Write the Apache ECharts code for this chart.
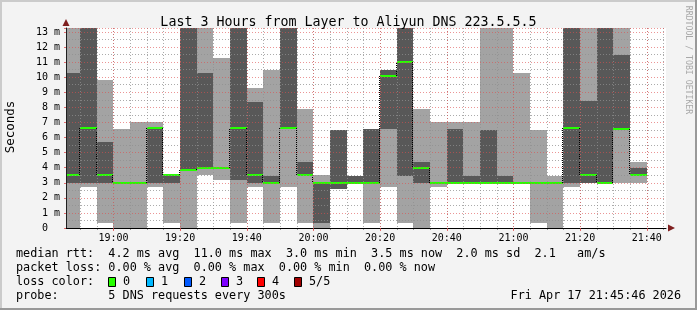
<!DOCTYPE html>
<html><head><meta charset="utf-8">
<script src="https://cdn.jsdelivr.net/npm/echarts@6/dist/echarts.min.js"></script>
<style>html,body{margin:0;padding:0;background:#f3f3f3}#c{width:697px;height:310px}</style>
</head><body><div id="c"></div>
<script>
// ---- data (5-minute buckets, values in milliseconds) ----
const bucketStart = ['18:45','18:50','18:55','19:00','19:05','19:10','19:15','19:20','19:25','19:30',
  '19:35','19:40','19:45','19:50','19:55','20:00','20:05','20:10','20:15','20:20',
  '20:25','20:30','20:35','20:40','20:45','20:50','20:55','21:00','21:05','21:10',
  '21:15','21:20','21:25','21:30','21:35'];
// outer smoke (light grey)
const lightLo = [0, 2.7, 0.35, 0, 0, 2.7, 0.35, 0, 3.5, 3.15,
  0.35, 2.7, 0.35, 2.7, 0.35, 0, null, null, 0.35, 2.7,
  0.35, 0, 2.7, 3.0, 3.0, 3.0, 3.0, 3.0, 0.35, 0,
  2.7, 3.0, null, 3.0, 3.0];
const lightHi = [14, 14, 9.8, 6.55, 7.0, 7.0, 3.5, 14, 14, 11.25,
  14, 9.25, 10.5, 14, 7.9, 3.5, null, null, 6.55, 10.5,
  14, 7.9, 7.0, 7.0, 7.0, 14, 14, 10.25, 6.5, 3.45,
  14, 14, null, 14, 4.4];
// inner smoke (dark grey)
const darkLo = [3.0, 3.0, 3.0, null, null, 3.0, 3.0, 3.9, 4.05, null,
  3.15, 3.0, 3.0, 6.6, 3.5, 0.35, 2.6, 3.0, 3.0, 6.55,
  3.45, 3.0, null, 3.0, 3.0, 3.0, 3.0, null, null, null,
  3.0, 3.0, 3.0, 6.55, 3.5];
const darkHi = [10.25, 14, 5.7, null, null, 6.6, 3.5, 14, 10.3, null,
  14, 8.35, 3.45, 14, 4.4, 3.0, 6.5, 3.45, 6.55, 10.5,
  14, 4.4, null, 6.55, 3.45, 6.5, 3.45, null, null, null,
  14, 8.4, 14, 11.5, 3.95];
// median rtt
const median = [3.5, 6.6, 3.5, 3.0, 3.0, 6.6, 3.5, 3.85, 4.0, 4.0,
  6.65, 3.5, 3.0, 6.6, 3.5, 3.0, 3.0, 3.0, 3.0, 10.05,
  11.0, 3.95, 3.0, 3.0, 3.0, 3.0, 3.0, 3.0, 3.0, 3.0,
  6.6, 3.5, 3.0, 6.55, 3.5];
const xTickLabels = ['19:00','19:20','19:40','20:00','20:20','20:40','21:00','21:20','21:40'];
const xMinorTicks = ['18:50','18:55','19:00','19:05','19:10','19:15','19:20','19:25','19:30','19:35',
  '19:40','19:45','19:50','19:55','20:00','20:05','20:10','20:15','20:20','20:25','20:30','20:35',
  '20:40','20:45','20:50','20:55','21:00','21:05','21:10','21:15','21:20','21:25','21:30','21:35',
  '21:40','21:45'];
const yTicks = [0,1,2,3,4,5,6,7,8,9,10,11,12,13];
const titleText = 'Last 3 Hours from Layer to Aliyun DNS 223.5.5.5';
const legendLines = [
  'median rtt:  4.2 ms avg  11.0 ms max  3.0 ms min  3.5 ms now  2.0 ms sd  2.1   am/s',
  'packet loss: 0.00 % avg  0.00 % max  0.00 % min  0.00 % now',
  'loss color:',
  'probe:       5 DNS requests every 300s'
];
const lossLabels = ['0','1','2','3','4','5/5'];
const lossColors = ['#26ff00','#00b8ff','#0059ff','#7e00ff','#ff0000','#a10000'];
const dateText = 'Fri Apr 17 21:45:46 2026';

// ---- build ----
const MONO = '"DejaVu Sans Mono", monospace';
const LIGHT = '#a3a3a3', DARK = '#585858', GREEN = '#26ff00';
function t(hm, s) { const [h, m] = hm.split(':').map(Number); return new Date(2026, 3, 17, h, m, s || 0).getTime(); }
function hhmm(v) { const d = new Date(v); return String(d.getHours()).padStart(2, '0') + ':' + String(d.getMinutes()).padStart(2, '0'); }
const xMin = t('18:45', 46), xMax = t('21:45', 46);
const items = bucketStart.map((s, i) => [t(s), t(s) + 300000, i, median[i]]);

function renderItem(params, api) {
  const i = api.value(2);
  const cs = params.coordSys;
  const box = {x: cs.x, y: cs.y, width: cs.width, height: cs.height};
  const t0 = api.value(0), t1 = api.value(1);
  const ch = [];
  const band = (lo, hi, color) => {
    if (lo == null || hi == null) return;
    const a = api.coord([t0, hi]), b = api.coord([t1, lo]);
    const x0 = Math.round(a[0]), x1 = Math.round(b[0]);
    const y0 = Math.round(a[1]), y1 = Math.round(b[1]);
    const r = echarts.graphic.clipRectByRect({x: x0, y: y0, width: x1 - x0, height: Math.max(y1 - y0, 0)}, box);
    if (r) ch.push({type: 'rect', shape: r, style: {fill: color}});
  };
  band(lightLo[i], lightHi[i], LIGHT);
  band(darkLo[i], darkHi[i], DARK);
  const m0 = api.coord([t0, median[i]]), m1 = api.coord([t1, median[i]]);
  if (i > 0 && median[i - 1] !== median[i]) {
    const p = api.coord([t0, median[i - 1]]);
    const x = Math.round(p[0]) - 0.5;
    ch.push({type: 'line', shape: {x1: x, y1: Math.round(p[1]), x2: x, y2: Math.round(m0[1])},
      style: {stroke: '#000', lineWidth: 1, lineDash: [1, 1]}});
  }
  const xa = Math.max(Math.round(m0[0]), cs.x), xb = Math.min(Math.round(m1[0]), cs.x + cs.width);
  const ym = Math.round(m0[1]);
  ch.push({type: 'line', shape: {x1: xa, y1: ym, x2: xb, y2: ym}, style: {stroke: GREEN, lineWidth: 2}});
  return {type: 'group', children: ch};
}

const chart = echarts.init(document.getElementById('c'), null, {renderer: 'canvas'});
const gridStyleMinor = {color: 'rgba(143,143,143,0.75)', width: 1, type: [1, 2]};
const gridStyleMajor = {color: 'rgba(222,79,79,0.6)', width: 1, type: [1, 2]};

const graphics = [
  {type: 'rect', shape: {x: 0, y: 0, width: 697, height: 2}, style: {fill: '#cbcbcb'}, silent: true},
  {type: 'rect', shape: {x: 0, y: 0, width: 2, height: 310}, style: {fill: '#cbcbcb'}, silent: true},
  {type: 'rect', shape: {x: 695, y: 0, width: 2, height: 310}, style: {fill: '#999999'}, silent: true},
  {type: 'rect', shape: {x: 0, y: 308, width: 697, height: 2}, style: {fill: '#999999'}, silent: true},
  {type: 'text', x: 11, y: 127, rotation: Math.PI / 2,
    style: {text: 'Seconds', font: '12.5px ' + MONO, fill: '#000', align: 'center', verticalAlign: 'middle'}},
  {type: 'text', x: 688, y: 60, rotation: -Math.PI / 2,
    style: {text: 'RRDTOOL / TOBI OETIKER', font: '8.2px ' + MONO, fill: '#a8a8a8', align: 'center', verticalAlign: 'middle'}}
];
const lineY = [254, 268, 282, 296];
legendLines.forEach((s, k) => graphics.push({type: 'text', x: 16, y: lineY[k],
  style: {text: s, font: '11.8px ' + MONO, fill: '#000', align: 'left', verticalAlign: 'middle'}}));
const boxX = [108, 146, 184, 221, 257, 294];
lossLabels.forEach((s, k) => {
  graphics.push({type: 'rect', shape: {x: boxX[k] + 0.5, y: 277.5, width: 7, height: 9},
    style: {fill: lossColors[k], stroke: '#000', lineWidth: 1}});
  graphics.push({type: 'text', x: boxX[k] + 15, y: 282,
    style: {text: s, font: '11.8px ' + MONO, fill: '#000', align: 'left', verticalAlign: 'middle'}});
});
graphics.push({type: 'text', x: 681, y: 296,
  style: {text: dateText, font: '11.8px ' + MONO, fill: '#000', align: 'right', verticalAlign: 'middle'}});

chart.setOption({
  animation: false,
  backgroundColor: '#f3f3f3',
  title: {text: titleText, left: 'center', top: 11,
    textStyle: {fontFamily: MONO, fontSize: 13.3, fontWeight: 'normal', color: '#000'}},
  grid: {left: 66, right: 31, top: 28, bottom: 82, show: true, backgroundColor: '#fff', borderWidth: 0},
  xAxis: [
    {type: 'value', min: xMin, max: xMax, z: 5,
      axisLine: {show: true, lineStyle: {color: '#000', width: 1}},
      axisTick: {show: true, length: 3, lineStyle: {color: 'rgba(222,79,79,0.8)'},
        customValues: xTickLabels.map(s => t(s))},
      axisLabel: {formatter: hhmm, fontFamily: MONO, fontSize: 10, color: '#000', margin: 5,
        customValues: xTickLabels.map(s => t(s))},
      splitLine: {show: true, lineStyle: gridStyleMajor}},
    {type: 'value', min: xMin, max: xMax, z: 4, position: 'bottom',
      axisLine: {show: false},
      axisTick: {show: true, length: 2, lineStyle: {color: '#999'}, customValues: xMinorTicks.map(s => t(s))},
      axisLabel: {show: false, customValues: xMinorTicks.map(s => t(s))},
      splitLine: {show: true, lineStyle: gridStyleMinor}}
  ],
  yAxis: {type: 'value', min: 0, max: 13.26, interval: 1, z: 5,
    axisLine: {show: true, lineStyle: {color: '#1f1f1f'}},
    axisTick: {show: true, length: 2, lineStyle: {color: 'rgba(222,79,79,0.8)'}},
    minorTick: {show: false, splitNumber: 2},
    axisLabel: {fontFamily: MONO, fontSize: 10, color: '#000', margin: 6,
      formatter: v => yTicks.indexOf(v) < 0 ? '' : (v === 0 ? '0  ' : v + ' m')},
    splitLine: {show: true, lineStyle: gridStyleMajor},
    minorSplitLine: {show: true, lineStyle: gridStyleMinor}},
  series: [{type: 'custom', renderItem: renderItem, data: items, xAxisIndex: 0, yAxisIndex: 0,
    encode: {x: [0, 1], y: 3}, z: 2, clip: true}],
  graphic: graphics
});
// axis arrows (decoration) placed from the grid rectangle
const gr = chart.getModel().getComponent('grid').coordinateSystem.getRect();
chart.setOption({graphic: graphics.concat([
  {type: 'polygon', shape: {points: [[gr.x, gr.y - 9], [gr.x - 3.5, gr.y - 2], [gr.x + 3.5, gr.y - 2]]}, style: {fill: '#7f1f1f'}},
  {type: 'polygon', shape: {points: [[gr.x + gr.width + 9, gr.y + gr.height], [gr.x + gr.width + 2, gr.y + gr.height - 3.5], [gr.x + gr.width + 2, gr.y + gr.height + 3.5]]}, style: {fill: '#7f1f1f'}}
])});
</script></body></html>
